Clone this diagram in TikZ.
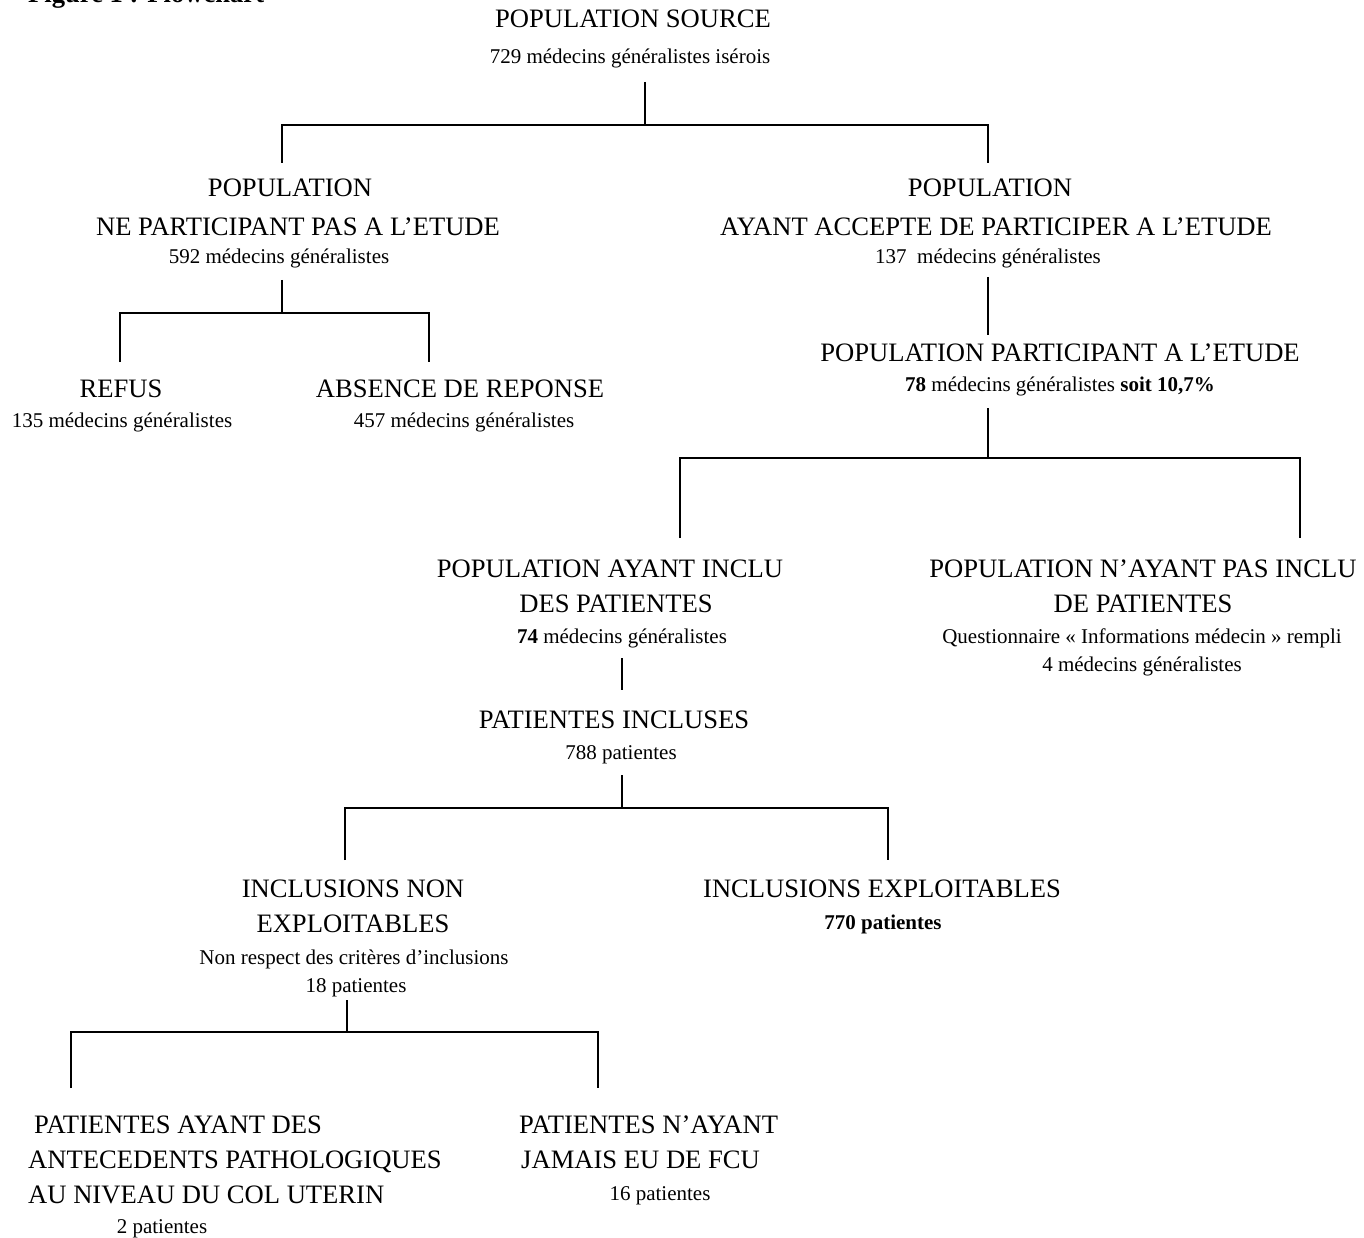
\documentclass[tikz,border=0pt]{standalone}
\usepackage{fontspec}
\setmainfont{Liberation Serif}
\newcommand\bigf{\fontsize{26.6}{30}\selectfont}
\newcommand\smf{\fontsize{21}{24}\selectfont}
\tikzset{
  B/.style={font=\bigf, inner sep=0pt, anchor=base},
  BL/.style={font=\bigf, inner sep=0pt, anchor=base west},
  S/.style={font=\smf, inner sep=0pt, anchor=base},
  ln/.style={line width=2.4pt, line join=miter, line cap=butt}
}
\begin{document}
\begin{tikzpicture}[x=1pt,y=-1pt]
\useasboundingbox[fill=white] (0,0) rectangle (1364,1238);

% title (cut at the top of the page)
\node[font=\bigf\bfseries, inner sep=0pt, anchor=base west] (fig) at (28,3) {Figure 1 : Flowchart};

% source population
\node[B] (src)  at (633,28) {POPULATION SOURCE};
\node[S] (srcN) at (630,64) {729 médecins généralistes isérois};

% level 1
\node[B] (npa1) at (290,197) {POPULATION};
\node[B] (npa2) at (298,236) {NE PARTICIPANT PAS A L’ETUDE};
\node[S] (npaN) at (279,264) {592 médecins généralistes};

\node[B] (acc1) at (990,197) {POPULATION};
\node[B] (acc2) at (996,236) {AYANT ACCEPTE DE PARTICIPER A L’ETUDE};
\node[S] (accN) at (988,264) {137~ médecins généralistes};

% refus / absence
\node[B] (ref)  at (121,397) {REFUS};
\node[S] (refN) at (122,427) {135 médecins généralistes};
\node[B] (abs)  at (460,397) {ABSENCE DE REPONSE};
\node[S] (absN) at (464,427) {457 médecins généralistes};

% participants
\node[B] (par)  at (1060,361) {POPULATION PARTICIPANT A L’ETUDE};
\node[S] (parN) at (1060,391) {\textbf{78} médecins généralistes \textbf{soit 10,7\%}};

% including / not including
\node[B] (inc1) at (610,577) {POPULATION AYANT INCLU};
\node[B] (inc2) at (616,612) {DES PATIENTES};
\node[S] (incN) at (622,643) {\textbf{74} médecins généralistes};

\node[B] (ninc1) at (1143,577) {POPULATION N’AYANT PAS INCLU};
\node[B] (ninc2) at (1143,612) {DE PATIENTES};
\node[S] (nincQ) at (1142,643) {Questionnaire « Informations médecin » rempli};
\node[S] (nincN) at (1142,671) {4 médecins généralistes};

% patients included
\node[B] (pin)  at (614,728) {PATIENTES INCLUSES};
\node[S] (pinN) at (621,759) {788 patientes};

% exploitable / not
\node[B] (ne1) at (353,897) {INCLUSIONS NON};
\node[B] (ne2) at (353,932) {EXPLOITABLES};
\node[S] (neR) at (354,964) {Non respect des critères d’inclusions};
\node[S] (neN) at (356,992) {18 patientes};

\node[B] (ex)  at (882,897) {INCLUSIONS EXPLOITABLES};
\node[S] (exN) at (883,929) {\textbf{770 patientes}};

% bottom
\node[BL] (ant1) at (34,1133) {PATIENTES AYANT DES};
\node[BL] (ant2) at (28,1168) {ANTECEDENTS PATHOLOGIQUES};
\node[BL] (ant3) at (28,1203) {AU NIVEAU DU COL UTERIN};
\node[S]  (antN) at (162,1233) {2 patientes};

\node[BL] (fcu1) at (519,1133) {PATIENTES N’AYANT};
\node[BL] (fcu2) at (521,1168) {JAMAIS EU DE FCU};
\node[S]  (fcuN) at (660,1200) {16 patientes};

% ---- connectors ----
\coordinate (a0) at (645,82);  \coordinate (a1) at (645,125);
\coordinate (aL) at (282,163); \coordinate (aR) at (988,163);
\draw[ln] (a0) -- (a1);
\draw[ln] (aL) -- (aL|-a1) -- (aR|-a1) -- (aR);

\coordinate (b0) at (282,280); \coordinate (b1) at (282,313);
\coordinate (bL) at (120,362); \coordinate (bR) at (429,362);
\draw[ln] (b0) -- (b1);
\draw[ln] (bL) -- (bL|-b1) -- (bR|-b1) -- (bR);

\coordinate (c0) at (988,277); \coordinate (c1) at (988,335);
\draw[ln] (c0) -- (c1);

\coordinate (d0) at (988,408); \coordinate (d1) at (988,458);
\coordinate (dL) at (680,538); \coordinate (dR) at (1300,538);
\draw[ln] (d0) -- (d1);
\draw[ln] (dL) -- (dL|-d1) -- (dR|-d1) -- (dR);

\coordinate (e0) at (622,658); \coordinate (e1) at (622,690);
\draw[ln] (e0) -- (e1);

\coordinate (f0) at (622,775); \coordinate (f1) at (622,808);
\coordinate (fL) at (345,860); \coordinate (fR) at (888,860);
\draw[ln] (f0) -- (f1);
\draw[ln] (fL) -- (fL|-f1) -- (fR|-f1) -- (fR);

\coordinate (g0) at (347,1000); \coordinate (g1) at (347,1032);
\coordinate (gL) at (71,1088);  \coordinate (gR) at (598,1088);
\draw[ln] (g0) -- (g1);
\draw[ln] (gL) -- (gL|-g1) -- (gR|-g1) -- (gR);
\end{tikzpicture}
\end{document}
